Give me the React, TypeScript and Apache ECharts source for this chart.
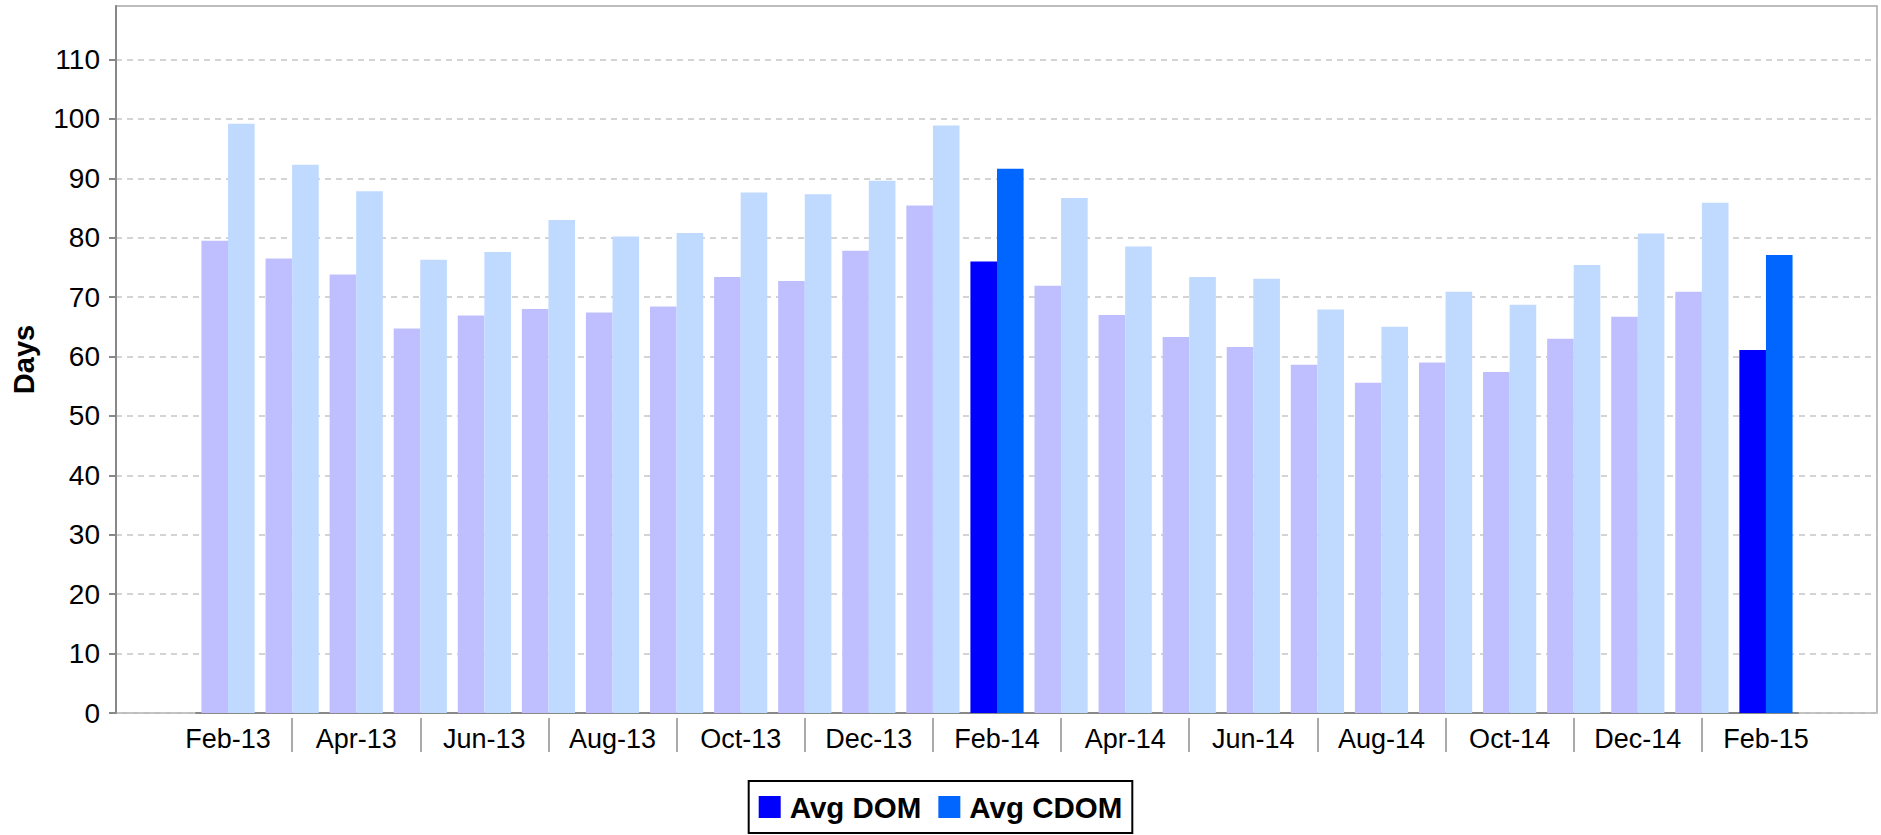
import React, { useEffect, useRef } from "react";
import * as echarts from "echarts";

const months = [
  "Feb-13", "Mar-13", "Apr-13", "May-13", "Jun-13", "Jul-13", "Aug-13", "Sep-13",
  "Oct-13", "Nov-13", "Dec-13", "Jan-14", "Feb-14", "Mar-14", "Apr-14", "May-14",
  "Jun-14", "Jul-14", "Aug-14", "Sep-14", "Oct-14", "Nov-14", "Dec-14", "Jan-15", "Feb-15",
];
const avgDom = [
  79.5, 76.5, 73.8, 64.7, 66.9, 68.0, 67.4, 68.4, 73.4, 72.7, 77.8, 85.4, 76.0,
  71.9, 67.0, 63.3, 61.6, 58.6, 55.6, 59.0, 57.4, 63.0, 66.7, 70.9, 61.1,
];
const avgCdom = [
  99.2, 92.3, 87.8, 76.3, 77.6, 83.0, 80.2, 80.8, 87.6, 87.3, 89.6, 98.9, 91.6,
  86.7, 78.5, 73.4, 73.1, 67.9, 65.0, 70.9, 68.7, 75.4, 80.7, 85.9, 77.1,
];
const highlighted = ["Feb-14", "Feb-15"];
const yTicks = [0, 10, 20, 30, 40, 50, 60, 70, 80, 90, 100, 110];

const FONT = "'Liberation Sans', Arial, Helvetica, sans-serif";
const DOM_COLOR = "#0000FF";
const DOM_FADED = "#BFBFFF";
const CDOM_COLOR = "#0066FF";
const CDOM_FADED = "#BFD9FF";

export default function App() {
  const ref = useRef<HTMLDivElement>(null);

  useEffect(() => {
    if (!ref.current) return;
    const chart = echarts.init(ref.current, undefined, { renderer: "svg" });
    const mk = (vals: number[], full: string, faded: string) =>
      vals.map((v, i) => ({
        value: v,
        itemStyle: { color: highlighted.includes(months[i]) ? full : faded },
      }));

    chart.setOption({
      animation: false,
      backgroundColor: "#ffffff",
      textStyle: { fontFamily: FONT },
      grid: [
        { left: 116, right: 4, top: 6, bottom: 122, show: true, borderColor: "#a8a8a8", borderWidth: 1.5 },
        { left: 196, right: 83, top: 6, bottom: 122 },
      ],
      legend: {
        top: 781,
        left: "center",
        itemWidth: 22,
        itemHeight: 22,
        itemGap: 17,
        borderColor: "#000",
        borderWidth: 2,
        padding: [11, 10, 11, 10],
        icon: "rect",
        textStyle: { fontSize: 29.5, fontWeight: "bold", color: "#000", fontFamily: FONT, padding: [0, 0, 0, 4] },
        data: ["Avg DOM", "Avg CDOM"],
      },
      xAxis: [
        { type: "value", gridIndex: 0, min: 0, max: 1, show: false },
        {
          type: "category",
          gridIndex: 1,
          data: months,
          axisLine: { show: true, lineStyle: { color: "#888", width: 2 } },
          axisTick: { show: false },
          axisLabel: { interval: 1, fontSize: 27, color: "#000", margin: 12, fontFamily: FONT },
          splitLine: { show: false },
        },
        {
          type: "category",
          gridIndex: 1,
          data: months,
          position: "bottom",
          offset: 5,
          axisLine: { show: false },
          axisLabel: { show: false },
          axisTick: {
            show: true,
            alignWithLabel: true,
            interval: (i: number) => i % 2 === 1,
            length: 34,
            lineStyle: { color: "#aaa", width: 2 },
          },
          splitLine: { show: false },
        },
      ],
      yAxis: [
        {
          type: "value",
          gridIndex: 0,
          min: 0,
          max: 119,
          interval: 10,
          name: "Days",
          nameLocation: "middle",
          nameGap: 78,
          nameTextStyle: { fontSize: 29, fontWeight: "bold", color: "#000", fontFamily: FONT },
          axisLine: { show: true, lineStyle: { color: "#888", width: 2 } },
          axisTick: { show: true, length: 7, lineStyle: { color: "#888", width: 2 }, customValues: yTicks },
          axisLabel: { fontSize: 28, color: "#000", margin: 16, fontFamily: FONT, customValues: yTicks },
          splitLine: { show: true, lineStyle: { type: [6, 5], color: "#c6c6c6", width: 1.5 } },
        },
        { type: "value", gridIndex: 1, min: 0, max: 119, show: false, splitLine: { show: false } },
      ],
      series: [
        {
          name: "Avg DOM",
          type: "bar",
          xAxisIndex: 1,
          yAxisIndex: 1,
          barGap: "0%",
          barCategoryGap: "17%",
          itemStyle: { color: DOM_COLOR },
          data: mk(avgDom, DOM_COLOR, DOM_FADED),
        },
        {
          name: "Avg CDOM",
          type: "bar",
          xAxisIndex: 1,
          yAxisIndex: 1,
          barGap: "0%",
          barCategoryGap: "17%",
          itemStyle: { color: CDOM_COLOR },
          data: mk(avgCdom, CDOM_COLOR, CDOM_FADED),
        },
      ],
    });
    return () => chart.dispose();
  }, []);

  return (
    <div
      ref={ref}
      style={{ position: "absolute", left: 0, top: 0, width: 1881, height: 835 }}
    />
  );
}
